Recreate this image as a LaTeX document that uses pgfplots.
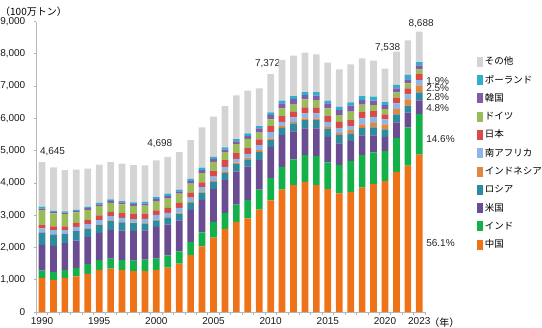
\documentclass[border=0pt]{standalone}
\usepackage{fontspec}
\setmainfont{Liberation Sans}
\newfontfamily\jp{Noto Sans CJK JP}
\usepackage{pgfplots}
\usepackage{pgfplotstable}
\pgfplotsset{compat=1.18}

\definecolor{cChina}{HTML}{EE7218}
\definecolor{cIndia}{HTML}{14B04A}
\definecolor{cUS}{HTML}{6A4C93}
\definecolor{cRussia}{HTML}{2E8A9E}
\definecolor{cIndo}{HTML}{E2873E}
\definecolor{cSA}{HTML}{8DB6E4}
\definecolor{cJapan}{HTML}{D84A4A}
\definecolor{cGermany}{HTML}{9BBB59}
\definecolor{cKorea}{HTML}{7F5CA8}
\definecolor{cPoland}{HTML}{31AECE}
\definecolor{cOther}{HTML}{D4D4D4}

\pgfplotstableread{
year C I U R Id SA J G K P O
1990 1056 227 797 383 8 117 103 466 45 63 1380
1991 994 248 807 352 9 126 114 403 40 43 1346
1992 1056 238 838 290 10 104 114 393 38 34 1284
1993 1107 259 849 290 11 123 124 321 45 38 1242
1994 1180 300 838 259 12 133 135 310 50 43 1180
1995 1304 300 849 248 14 131 145 290 55 48 1180
1996 1346 310 890 280 16 128 135 279 58 46 1159
1997 1294 310 921 249 17 128 145 269 60 43 1159
1998 1263 331 921 238 18 106 156 258 58 46 1159
1999 1268 352 911 207 20 125 166 248 63 50 1129
2000 1309 342 983 207 22 144 145 269 75 65 1137
2001 1371 383 953 217 25 120 155 290 80 70 1144
2002 1496 382 963 207 28 148 156 289 68 56 1159
2003 1765 403 994 218 30 135 145 290 78 67 1200
2004 2034 435 1003 228 35 131 149 290 90 75 1249
2005 2303 487 1014 217 40 136 186 269 85 71 1242
2006 2572 497 1014 228 45 141 207 248 80 65 1284
2007 2789 539 1024 228 50 116 176 279 85 70 1357
2008 2903 569 1035 218 55 121 176 290 90 76 1325
2009 3172 621 911 259 52 156 176 207 135 72 1169
2010 3462 688 969 207 52 197 186 205 140 80 1186
2011 3793 704 983 227 52 135 176 238 155 83 1263
2012 3928 797 875 241 52 135 176 238 155 93 1253
2013 4031 828 828 258 52 155 187 248 135 93 1221
2014 3928 900 859 258 52 155 176 238 135 114 1170
2015 3804 830 794 238 72 156 176 238 155 83 1180
2016 3679 880 664 257 72 155 187 207 155 104 1159
2017 3721 962 621 228 104 125 186 259 185 104 1179
2018 3855 1004 611 238 104 187 196 228 144 124 1170
2019 3959 983 528 248 145 186 176 186 135 125 1117
2020 4052 942 435 227 156 155 155 166 124 93 1033
2021 4341 1056 476 249 166 176 176 166 124 103 1035
2022 4538 1180 456 217 197 155 187 155 124 134 1076
2023 4874 1268 417 243 217 165 200 130 130 100 944
}\data

\newcommand\tlf{\fontsize{10bp}{12bp}\selectfont}
\newcommand\jpf{\jp\fontsize{9.5bp}{11bp}\selectfont}
\newcommand\jpt{\jp\fontsize{10bp}{12bp}\selectfont}
\newcommand\sq[1]{\addlegendimage{draw=none, legend image code/.code={\node[draw=none, fill=#1, inner sep=0pt, minimum size=6bp] at (3bp,0bp) {};}}}

\begin{document}
\begin{tikzpicture}
\useasboundingbox (-36.3bp,-16bp) rectangle (505.7bp,312bp);
\begin{axis}[
  scale only axis, width=388.7bp, height=290.5bp,
  ybar stacked, bar width=6.7bp,
  xmin=1989.5, xmax=2023.5, ymin=0, ymax=9000,
  clip=false,
  axis x line*=bottom, axis y line*=left,
  axis line style={draw=black!28, line width=0.8bp},
  tick align=outside,
  xtick={1989.5,1990.5,...,2023.5},
  xticklabels={},
  major tick length=2.5bp,
  tick style={draw=black!30, line width=0.6bp},
  extra x ticks={1990,1995,2000,2005,2010,2015,2020,2023},
  extra x tick labels={1990,1995,2000,2005,2010,2015,2020,2023},
  extra x tick style={major tick length=0pt},
  xticklabel style={font=\tlf, text=black!90, yshift=-2bp},
  ytick={0,1000,...,9000},
  yticklabel style={font=\tlf, text=black!90, xshift=-5bp},
  /pgf/number format/assume math mode=true,
  /pgf/number format/1000 sep={,},
  legend style={at={(rel axis cs:1.134,0.881)}, anchor=north west,
    draw=none, fill=none, inner sep=0pt,
    font=\jpf,
    nodes={inner sep=0.5bp, text height=8bp, text depth=2bp},
    row sep=7.3bp, column sep=1bp},
  legend cell align=left,
]
\addplot[fill=cChina, draw=none, forget plot] table[x=year,y=C]{\data};
\addplot[fill=cIndia, draw=none, forget plot] table[x=year,y=I]{\data};
\addplot[fill=cUS, draw=none, forget plot] table[x=year,y=U]{\data};
\addplot[fill=cRussia, draw=none, forget plot] table[x=year,y=R]{\data};
\addplot[fill=cIndo, draw=none, forget plot] table[x=year,y=Id]{\data};
\addplot[fill=cSA, draw=none, forget plot] table[x=year,y=SA]{\data};
\addplot[fill=cJapan, draw=none, forget plot] table[x=year,y=J]{\data};
\addplot[fill=cGermany, draw=none, forget plot] table[x=year,y=G]{\data};
\addplot[fill=cKorea, draw=none, forget plot] table[x=year,y=K]{\data};
\addplot[fill=cPoland, draw=none, forget plot] table[x=year,y=P]{\data};
\addplot[fill=cOther, draw=none, forget plot] table[x=year,y=O]{\data};

\sq{cOther} \addlegendentry{その他}
\sq{cPoland} \addlegendentry{ポーランド}
\sq{cKorea} \addlegendentry{韓国}
\sq{cGermany} \addlegendentry{ドイツ}
\sq{cJapan} \addlegendentry{日本}
\sq{cSA} \addlegendentry{南アフリカ}
\sq{cIndo} \addlegendentry{インドネシア}
\sq{cRussia} \addlegendentry{ロシア}
\sq{cUS} \addlegendentry{米国}
\sq{cIndia} \addlegendentry{インド}
\sq{cChina} \addlegendentry{中国}

\node[font=\tlf, text=black!85, inner sep=0pt] at (axis cs:1990.92,4963) {4,645};
\node[font=\tlf, text=black!85, inner sep=0pt] at (axis cs:2000.3,5224) {4,698};
\node[font=\tlf, text=black!85, inner sep=0pt] at (axis cs:2009.73,7686) {7,372};
\node[font=\tlf, text=black!85, inner sep=0pt] at (axis cs:2020.23,8205) {7,538};
\node[font=\tlf, text=black!85, inner sep=0pt] at (axis cs:2023.16,8919) {8,688};
\node[font=\tlf, text=black!85, inner sep=0pt, anchor=west] at (axis cs:2023.6,7168) {1.9\%};
\node[font=\tlf, text=black!85, inner sep=0pt, anchor=west] at (axis cs:2023.6,6932) {2.5\%};
\node[font=\tlf, text=black!85, inner sep=0pt, anchor=west] at (axis cs:2023.6,6652) {2.8\%};
\node[font=\tlf, text=black!85, inner sep=0pt, anchor=west] at (axis cs:2023.6,6320) {4.8\%};
\node[font=\tlf, text=black!85, inner sep=0pt, anchor=west] at (axis cs:2023.6,5357) {14.6\%};
\node[font=\tlf, text=black!85, inner sep=0pt, anchor=west] at (axis cs:2023.6,2127) {56.1\%};
\end{axis}
\node[anchor=west, inner sep=0pt, font=\jpt] at (-36.3bp,300bp) {（100万トン）};
\node[inner sep=0pt, font=\jpt] at (408bp,-11bp) {（年）};
\end{tikzpicture}
\end{document}
